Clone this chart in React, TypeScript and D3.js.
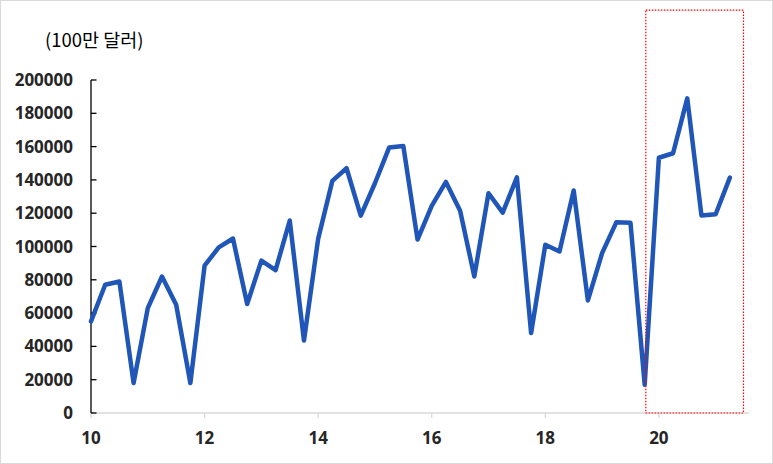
import React from "react";
import * as d3 from "d3";

const periods = [
  10.0, 10.25, 10.5, 10.75, 11.0, 11.25, 11.5, 11.75,
  12.0, 12.25, 12.5, 12.75, 13.0, 13.25, 13.5, 13.75,
  14.0, 14.25, 14.5, 14.75, 15.0, 15.25, 15.5, 15.75,
  16.0, 16.25, 16.5, 16.75, 17.0, 17.25, 17.5, 17.75,
  18.0, 18.25, 18.5, 18.75, 19.0, 19.25, 19.5, 19.75,
  20.0, 20.25, 20.5, 20.75, 21.0, 21.25,
];
const values = [
  55000, 77000, 79000, 18000, 63000, 82000, 65000, 18000,
  88500, 99500, 104800, 65500, 91500, 85800, 115600, 43500,
  104600, 139400, 147000, 118500, 138000, 159400, 160300, 104200,
  124400, 138800, 121500, 82000, 132000, 120300, 141500, 48000,
  101000, 97000, 133600, 67600, 96000, 114500, 114200, 17000,
  153300, 156000, 189000, 118600, 119400, 141400,
];
const xTicks = [10, 12, 14, 16, 18, 20];
const yTicks = [0, 20000, 40000, 60000, 80000, 100000, 120000, 140000, 160000, 180000, 200000];
const unitLabel = "(100만 달러)";
const highlightX = [19.77, 21.49];
const highlightY = [0, 242000];

export default function App() {
  React.useEffect(() => {
    document.body.style.margin = "0";
  }, []);
  const W = 773, H = 464;
  const x = d3.scaleLinear().domain([10, 21.58]).range([91, 748.6]);
  const y = d3.scaleLinear().domain([0, 200000]).range([413, 80]);
  const pts = periods.map((p, i) => [p, values[i]] as [number, number]);
  const line = d3.line<[number, number]>().x(d => x(d[0])).y(d => y(d[1]));
  const font = "'Open Sans', 'Liberation Sans', sans-serif";
  return (
    <svg width={W} height={H} style={{ display: "block" }}>
      <rect x={0.5} y={0.5} width={W - 1} height={H - 1} fill="#fff" stroke="#d9d9d9" />
      <text x={45} y={47} fontFamily="'Noto Sans CJK KR', sans-serif" fontSize={18.5} fill="#000">{unitLabel}</text>
      {/* x axis */}
      <line x1={x(10)} x2={x.range()[1]} y1={y(0)} y2={y(0)} stroke="#d9d9d9" strokeWidth={1.3} />
      {xTicks.map(t => (
        <g key={t}>
          <line x1={x(t)} x2={x(t)} y1={y(0)} y2={y(0) + 5} stroke="#d9d9d9" strokeWidth={1.3} />
          <text x={x(t)} y={444} textAnchor="middle" fontFamily={font} fontWeight="bold" fontSize={17} fill="#262626">{t}</text>
        </g>
      ))}
      {/* y axis */}
      <line x1={91} x2={91} y1={y(200000)} y2={y(0)} stroke="#000" strokeWidth={1.3} />
      {yTicks.map(t => (
        <g key={t}>
          <line x1={91} x2={96.5} y1={y(t)} y2={y(t)} stroke="#000" strokeWidth={1.3} />
          <text x={73} y={y(t) + 6} textAnchor="end" fontFamily={font} fontWeight="bold" fontSize={17} fill="#262626">{t}</text>
        </g>
      ))}
      <path d={line(pts) || ""} fill="none" stroke="#1f56b8" strokeWidth={4.5} strokeLinejoin="round" strokeLinecap="round" />
      <rect
        x={x(highlightX[0])}
        y={y(highlightY[1])}
        width={x(highlightX[1]) - x(highlightX[0])}
        height={y(highlightY[0]) - y(highlightY[1])}
        fill="none"
        stroke="#ff0000"
        strokeWidth={1.2}
        strokeDasharray="1.5 1.5"
      />
    </svg>
  );
}
